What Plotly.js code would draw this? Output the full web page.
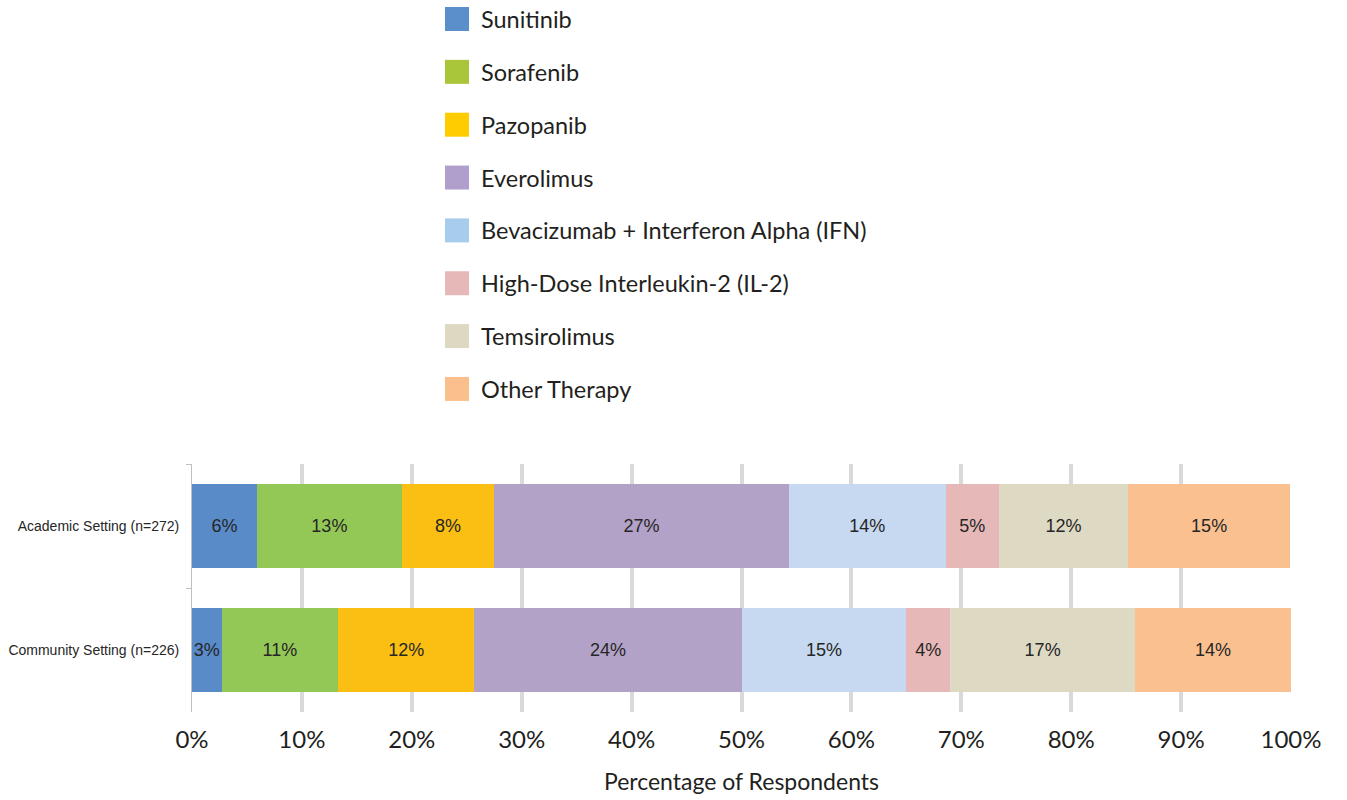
<!DOCTYPE html>
<html>
<head>
<meta charset="utf-8">
<script src="https://cdn.plot.ly/plotly-3.0.1.min.js"></script>
<style>html,body{margin:0;padding:0;background:#fff;}#chart{width:1347px;height:800px;}</style>
</head>
<body>
<div id="chart"></div>
<script>
// Categories (top to bottom)
const categories = ["Academic Setting (n=272)", "Community Setting (n=226)"];

// Series names
const seriesNames = [
  "Sunitinib",
  "Sorafenib",
  "Pazopanib",
  "Everolimus",
  "Bevacizumab + Interferon Alpha (IFN)",
  "High-Dose Interleukin-2 (IL-2)",
  "Temsirolimus",
  "Other Therapy"
];

// Percentage of respondents, [Academic, Community]
const sunitinib    = [5.9, 2.7];
const sorafenib    = [13.2, 10.6];
const pazopanib    = [8.4, 12.4];
const everolimus   = [26.8, 24.3];
const bevacizumab  = [14.3, 15.0];
const il2          = [4.8, 4.0];
const temsirolimus = [11.8, 16.8];
const otherTherapy = [14.7, 14.2];

const seriesValues = [sunitinib, sorafenib, pazopanib, everolimus, bevacizumab, il2, temsirolimus, otherTherapy];

// Colours
const barColors = ["#598BC9", "#94C856", "#FBBF14", "#B3A2C7", "#C6D9F0", "#E6B9B8", "#DDD9C3", "#FAC090"];
const legendColors = ["#5B8FCB", "#A9C63A", "#FFCC00", "#B09FCC", "#A8CDEC", "#E6B8B8", "#DDD8C2", "#FBBF8E"];

// X axis ticks
const xTickVals = [0, 10, 20, 30, 40, 50, 60, 70, 80, 90, 100];

const W = 1347, H = 800;
const M = {l: 192, r: 56, t: 464, b: 88};
const pw = W - M.l - M.r, ph = H - M.t - M.b;
const px2x = p => (p - M.l) / pw;
const px2y = p => (H - M.b - p) / ph;

const sansFont = "Lato, sans-serif";
const textDark = "#231F20";

const traces = seriesNames.map((name, i) => ({
  type: "bar",
  orientation: "h",
  name: name,
  y: categories,
  x: seriesValues[i],
  marker: {color: barColors[i], line: {width: 0}},
  text: seriesValues[i].map(v => Math.round(v) + "%"),
  textposition: "inside",
  insidetextanchor: "middle",
  textangle: 0,
  constraintext: "none",
  textfont: {family: "Liberation Sans, Arial, sans-serif", size: 18, color: "#262626"},
  hoverinfo: "name+x",
  showlegend: false,
  cliponaxis: false
}));

// Legend built from series names and colours
const shapes = [];
const annotations = [];
const legendTop = 19, legendStep = 52.85, sw = 24;
seriesNames.forEach((name, i) => {
  const cy = legendTop + i * legendStep;
  shapes.push({
    type: "rect", xref: "paper", yref: "paper",
    x0: px2x(445), x1: px2x(445 + sw),
    y0: px2y(cy - sw / 2), y1: px2y(cy + sw / 2),
    fillcolor: legendColors[i], line: {width: 0}
  });
  annotations.push({
    xref: "paper", yref: "paper",
    x: px2x(479), y: px2y(cy),
    xanchor: "left", yanchor: "middle",
    text: name, showarrow: false,
    font: {family: sansFont, size: 23.5, color: textDark}
  });
});

const layout = {
  width: W, height: H,
  margin: M,
  paper_bgcolor: "#ffffff",
  plot_bgcolor: "#ffffff",
  barmode: "stack",
  bargap: 0.33,
  showlegend: false,
  xaxis: {
    range: [0, 100],
    tickvals: xTickVals,
    ticktext: xTickVals.map(v => v + "%"),
    showgrid: true,
    gridcolor: "#D9D9D9",
    gridwidth: 4,
    zeroline: false,
    showline: false,
    ticks: "",
    ticklabelstandoff: 11,
    tickfont: {family: sansFont, size: 24, color: textDark},
    title: {text: "Percentage of Respondents", font: {family: sansFont, size: 23, color: textDark}, standoff: 21},
    fixedrange: true
  },
  yaxis: {
    type: "category",
    autorange: "reversed",
    showgrid: false,
    showline: true,
    linecolor: "#BFBFBF",
    linewidth: 1,
    ticks: "outside",
    tickson: "boundaries",
    ticklen: 5,
    tickcolor: "#BFBFBF",
    tickwidth: 1,
    ticklabelstandoff: 9,
    tickfont: {family: "Liberation Sans, Arial, sans-serif", size: 14, color: "#262626"},
    fixedrange: true
  },
  shapes: shapes,
  annotations: annotations
};

Plotly.newPlot("chart", traces, layout, {displayModeBar: false, staticPlot: true});
</script>
</body>
</html>
